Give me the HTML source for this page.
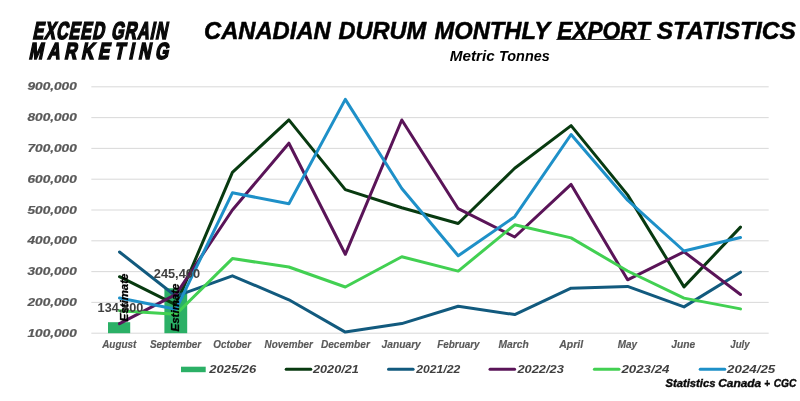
<!DOCTYPE html>
<html lang="en">
<head>
<meta charset="utf-8">
<title>Canadian Durum Monthly Export Statistics</title>
<style>
html,body{margin:0;padding:0;background:#fff;}
body{width:800px;height:401px;overflow:hidden;font-family:"Liberation Sans",sans-serif;}
svg{display:block;}
svg text{font-family:"Liberation Sans",sans-serif;font-weight:bold;font-style:italic;}
.ax{fill:#595959;font-size:10.5px;stroke:#595959;stroke-width:0.2px;}
.xl{fill:#595959;font-size:10px;stroke:#595959;stroke-width:0.15px;}
.lg{fill:#404040;font-size:11.5px;}
.dl{fill:#404040;font-size:12.2px;font-style:normal;}
.est{fill:#000;font-size:10px;stroke:#000;stroke-width:0.28px;}
.ttl{fill:#000;font-size:23px;stroke:#000;stroke-width:0.5px;}
.sub{fill:#000;font-size:14px;}
.src{fill:#0a0a0a;font-size:10px;stroke:#0a0a0a;stroke-width:0.35px;}
.logo{fill:#0a0a0a;}
</style>
</head>
<body>
<svg width="800" height="401" viewBox="0 0 800 401">
<rect x="0" y="0" width="800" height="401" fill="#ffffff"/>
<g transform="translate(32.2,38.7) skewX(-11.7) scale(0.66,1)"><text class="logo" font-size="24.4" stroke="#0a0a0a" stroke-width="1.7" stroke-linejoin="miter" letter-spacing="1.55" word-spacing="1" style="font-style:normal">EXCEED GRAIN</text></g>
<g transform="translate(28.6,58.6) skewX(-11.7) scale(0.73,1)"><text class="logo" font-size="23.2" stroke="#0a0a0a" stroke-width="1.7" stroke-linejoin="miter" letter-spacing="6.3" word-spacing="0" style="font-style:normal">MARKETING</text></g>
<text class="ttl" x="204.0" y="38.8" textLength="126.7" lengthAdjust="spacingAndGlyphs">CANADIAN</text>
<text class="ttl" x="338.4" y="38.8" textLength="87.8" lengthAdjust="spacingAndGlyphs">DURUM</text>
<text class="ttl" x="434.6" y="38.8" textLength="115.4" lengthAdjust="spacingAndGlyphs">MONTHLY</text>
<text class="ttl" x="557.2" y="38.8" textLength="92.8" lengthAdjust="spacingAndGlyphs">EXPORT</text>
<rect x="556.3" y="39.0" width="94.3" height="0.95" fill="#222"/>
<text class="ttl" x="656.7" y="38.8" textLength="139.2" lengthAdjust="spacingAndGlyphs">STATISTICS</text>
<text class="sub" x="449.8" y="61.3" textLength="45" lengthAdjust="spacingAndGlyphs">Metric</text>
<text class="sub" x="499.0" y="61.3" textLength="50.8" lengthAdjust="spacingAndGlyphs">Tonnes</text>
<rect x="91.3" y="332.65" width="677.4" height="1.1" fill="#dcdcdc"/>
<rect x="91.3" y="301.85" width="677.4" height="1.1" fill="#dcdcdc"/>
<rect x="91.3" y="271.05" width="677.4" height="1.1" fill="#dcdcdc"/>
<rect x="91.3" y="240.25" width="677.4" height="1.1" fill="#dcdcdc"/>
<rect x="91.3" y="209.45" width="677.4" height="1.1" fill="#dcdcdc"/>
<rect x="91.3" y="178.65" width="677.4" height="1.1" fill="#dcdcdc"/>
<rect x="91.3" y="147.85" width="677.4" height="1.1" fill="#dcdcdc"/>
<rect x="91.3" y="117.05" width="677.4" height="1.1" fill="#dcdcdc"/>
<rect x="91.3" y="86.25" width="677.4" height="1.1" fill="#dcdcdc"/>
<text class="ax" x="27.5" y="336.8" textLength="49.3" lengthAdjust="spacingAndGlyphs">100,000</text>
<text class="ax" x="27.5" y="306.0" textLength="49.3" lengthAdjust="spacingAndGlyphs">200,000</text>
<text class="ax" x="27.5" y="275.2" textLength="49.3" lengthAdjust="spacingAndGlyphs">300,000</text>
<text class="ax" x="27.5" y="244.4" textLength="49.3" lengthAdjust="spacingAndGlyphs">400,000</text>
<text class="ax" x="27.5" y="213.6" textLength="49.3" lengthAdjust="spacingAndGlyphs">500,000</text>
<text class="ax" x="27.5" y="182.8" textLength="49.3" lengthAdjust="spacingAndGlyphs">600,000</text>
<text class="ax" x="27.5" y="152.0" textLength="49.3" lengthAdjust="spacingAndGlyphs">700,000</text>
<text class="ax" x="27.5" y="121.2" textLength="49.3" lengthAdjust="spacingAndGlyphs">800,000</text>
<text class="ax" x="27.5" y="90.4" textLength="49.3" lengthAdjust="spacingAndGlyphs">900,000</text>
<rect x="108" y="322.2" width="22.2" height="11.0" fill="#2bb066"/>
<rect x="164.4" y="288.3" width="22.8" height="44.9" fill="#2bb066"/>
<polyline points="119.5,276.7 176.0,304.9 232.4,172.4 288.9,119.9 345.3,189.6 401.8,207.8 458.2,223.5 514.7,168.3 571.1,125.6 627.6,194.9 684.0,286.9 740.5,227.1" fill="none" stroke="#083a10" stroke-width="3" stroke-linejoin="round" stroke-linecap="round"/>
<polyline points="119.5,252.0 176.0,296.2 232.4,275.8 288.9,299.8 345.3,332.1 401.8,323.6 458.2,306.2 514.7,314.6 571.1,288.2 627.6,286.4 684.0,306.9 740.5,272.2" fill="none" stroke="#125a7e" stroke-width="3" stroke-linejoin="round" stroke-linecap="round"/>
<polyline points="119.5,323.7 176.0,294.4 232.4,210.0 288.9,143.2 345.3,254.3 401.8,120.0 458.2,208.7 514.7,237.0 571.1,184.4 627.6,279.8 684.0,251.8 740.5,294.5" fill="none" stroke="#5a1458" stroke-width="3" stroke-linejoin="round" stroke-linecap="round"/>
<polyline points="119.5,310.7 176.0,314.2 232.4,258.6 288.9,267.0 345.3,287.0 401.8,256.7 458.2,271.1 514.7,224.8 571.1,237.9 627.6,271.0 684.0,298.1 740.5,308.9" fill="none" stroke="#42d052" stroke-width="3" stroke-linejoin="round" stroke-linecap="round"/>
<polyline points="119.5,298.0 176.0,309.3 232.4,192.8 288.9,203.8 345.3,99.4 401.8,188.5 458.2,255.8 514.7,216.7 571.1,134.5 627.6,200.2 684.0,251.0 740.5,237.5" fill="none" stroke="#1e90c8" stroke-width="3" stroke-linejoin="round" stroke-linecap="round"/>
<text class="dl" x="97.6" y="312.4" textLength="45.8" lengthAdjust="spacingAndGlyphs">134,800</text>
<text class="dl" x="153.8" y="278.2" textLength="46.2" lengthAdjust="spacingAndGlyphs">245,400</text>
<text class="est" transform="translate(127.9,321.4) rotate(-90)" textLength="47.8" lengthAdjust="spacingAndGlyphs">Estimate</text>
<text class="est" transform="translate(179.3,331.4) rotate(-90)" textLength="47.8" lengthAdjust="spacingAndGlyphs">Estimate</text>
<text class="xl" x="102.2" y="347.9" textLength="34.2" lengthAdjust="spacingAndGlyphs">August</text>
<text class="xl" x="149.9" y="347.9" textLength="51.3" lengthAdjust="spacingAndGlyphs">September</text>
<text class="xl" x="213.3" y="347.9" textLength="37.8" lengthAdjust="spacingAndGlyphs">October</text>
<text class="xl" x="264.6" y="347.9" textLength="48.2" lengthAdjust="spacingAndGlyphs">November</text>
<text class="xl" x="320.9" y="347.9" textLength="49" lengthAdjust="spacingAndGlyphs">December</text>
<text class="xl" x="381.6" y="347.9" textLength="39.2" lengthAdjust="spacingAndGlyphs">January</text>
<text class="xl" x="437.2" y="347.9" textLength="42.4" lengthAdjust="spacingAndGlyphs">February</text>
<text class="xl" x="498.5" y="347.9" textLength="30.2" lengthAdjust="spacingAndGlyphs">March</text>
<text class="xl" x="559.3" y="347.9" textLength="23.8" lengthAdjust="spacingAndGlyphs">April</text>
<text class="xl" x="617.8" y="347.9" textLength="19.3" lengthAdjust="spacingAndGlyphs">May</text>
<text class="xl" x="671.3" y="347.9" textLength="23.9" lengthAdjust="spacingAndGlyphs">June</text>
<text class="xl" x="730.3" y="347.9" textLength="19.3" lengthAdjust="spacingAndGlyphs">July</text>
<rect x="181" y="366.7" width="24.7" height="5.5" fill="#2bb066"/>
<text class="lg" x="209.2" y="373" textLength="47" lengthAdjust="spacingAndGlyphs">2025/26</text>
<line x1="286.2" y1="369.3" x2="310.8" y2="369.3" stroke="#083a10" stroke-width="3" stroke-linecap="round"/>
<text class="lg" x="313" y="373" textLength="45.8" lengthAdjust="spacingAndGlyphs">2020/21</text>
<line x1="388.5" y1="369.3" x2="413.1" y2="369.3" stroke="#125a7e" stroke-width="3" stroke-linecap="round"/>
<text class="lg" x="416.3" y="373" textLength="44" lengthAdjust="spacingAndGlyphs">2021/22</text>
<line x1="490.0" y1="369.3" x2="514.6" y2="369.3" stroke="#5a1458" stroke-width="3" stroke-linecap="round"/>
<text class="lg" x="517.4" y="373" textLength="46.4" lengthAdjust="spacingAndGlyphs">2022/23</text>
<line x1="594.4000000000001" y1="369.3" x2="619.0" y2="369.3" stroke="#42d052" stroke-width="3" stroke-linecap="round"/>
<text class="lg" x="621.4" y="373" textLength="48.1" lengthAdjust="spacingAndGlyphs">2023/24</text>
<line x1="700.2" y1="369.3" x2="724.8" y2="369.3" stroke="#1e90c8" stroke-width="3" stroke-linecap="round"/>
<text class="lg" x="727.1" y="373" textLength="48.2" lengthAdjust="spacingAndGlyphs">2024/25</text>
<text class="src" x="665.5" y="387.0" textLength="50.0" lengthAdjust="spacingAndGlyphs">Statistics</text>
<text class="src" x="718.2" y="387.0" textLength="43.0" lengthAdjust="spacingAndGlyphs">Canada</text>
<text class="src" x="764.3" y="387.0" textLength="5.8" lengthAdjust="spacingAndGlyphs">+</text>
<text class="src" x="773.7" y="387.0" textLength="22.8" lengthAdjust="spacingAndGlyphs">CGC</text>
</svg>
</body>
</html>
